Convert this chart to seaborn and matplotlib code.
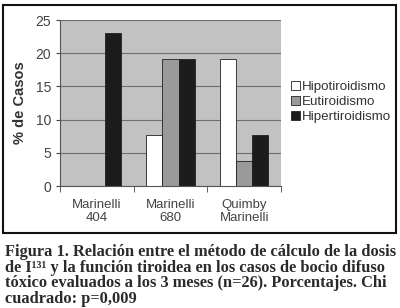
import pandas as pd
import matplotlib
matplotlib.use("Agg")
import matplotlib.pyplot as plt
from matplotlib.patches import Rectangle
from matplotlib.ticker import FixedLocator
import seaborn as sns

categories = ["Marinelli\n404", "Marinelli\n680", "Quimby\nMarinelli"]
series = ["Hipotiroidismo", "Eutiroidismo", "Hipertiroidismo"]
hipo = [0, 7.7, 19.2]
euti = [0, 19.2, 3.8]
hiper = [23.1, 19.2, 7.7]
colors = ["#ffffff", "#9a9a9a", "#1c1c1c"]

caption = ("Figura 1. Relación entre el método de cálculo de la dosis\n"
           "de I¹³¹ y la función tiroidea en los casos de bocio difuso\n"
           "tóxico evaluados a los 3 meses (n=26). Porcentajes. Chi\n"
           "cuadrado: p=0,009")

rows = []
for name, vals in zip(series, [hipo, euti, hiper]):
    for cat, v in zip(categories, vals):
        rows.append({"cat": cat, "serie": name, "pct": v})
df = pd.DataFrame(rows)

sns.set_style("white")
plt.rcParams["font.family"] = ["Liberation Sans", "DejaVu Sans"]

fig = plt.figure(figsize=(4.0, 3.08), dpi=100)
ax = fig.add_axes([0.15, 0.396, 0.5525, 0.539])
ax.set_facecolor("#c2c2c2")

sns.barplot(data=df, x="cat", y="pct", hue="serie", palette=colors,
            width=0.66, edgecolor="#202020", linewidth=0.6, ax=ax,
            legend=True)

ax.set_ylim(0, 25)
ax.set_xlim(-0.5, 2.5)
ax.set_yticks([0, 5, 10, 15, 20, 25])
ax.yaxis.grid(True, color="#6e6e6e", linewidth=0.8)
ax.set_axisbelow(True)
ax.set_xlabel("")
ax.set_ylabel("% de Casos", fontsize=10.5, fontweight="bold", color="#333333", labelpad=6)
ax.tick_params(axis="y", labelsize=10, colors="#444444", length=3, direction="out", left=True)
ax.tick_params(axis="x", which="major", labelsize=9.5, labelcolor="#444444", length=0, pad=9)
ax.xaxis.set_minor_locator(FixedLocator([-0.5, 0.5, 1.5, 2.5]))
ax.tick_params(axis="x", which="minor", length=4, color="#444444", bottom=True, direction="out")
for s in ["top", "right"]:
    ax.spines[s].set_visible(False)
for s in ["left", "bottom"]:
    ax.spines[s].set_color("#555555")
    ax.spines[s].set_linewidth(0.8)

leg = ax.legend(loc="center left", bbox_to_anchor=(0.715, 0.669),
                bbox_transform=fig.transFigure, frameon=False,
                fontsize=9.6, handlelength=0.65, handleheight=0.65,
                handletextpad=0.15, labelspacing=0.2, borderaxespad=0)
for t in leg.get_texts():
    t.set_color("#333333")

fig.patches.append(Rectangle((0.0075, 0.2435), 0.9825, 0.74, transform=fig.transFigure,
                             fill=False, edgecolor="#111111", linewidth=1.5))

fig.text(0.012, 0.207, caption, ha="left", va="top", fontsize=11.8,
         family=["Liberation Serif", "DejaVu Serif"], fontweight="bold",
         color="#2a2a2a", linespacing=0.96)

fig.savefig("out.png", dpi=100)
